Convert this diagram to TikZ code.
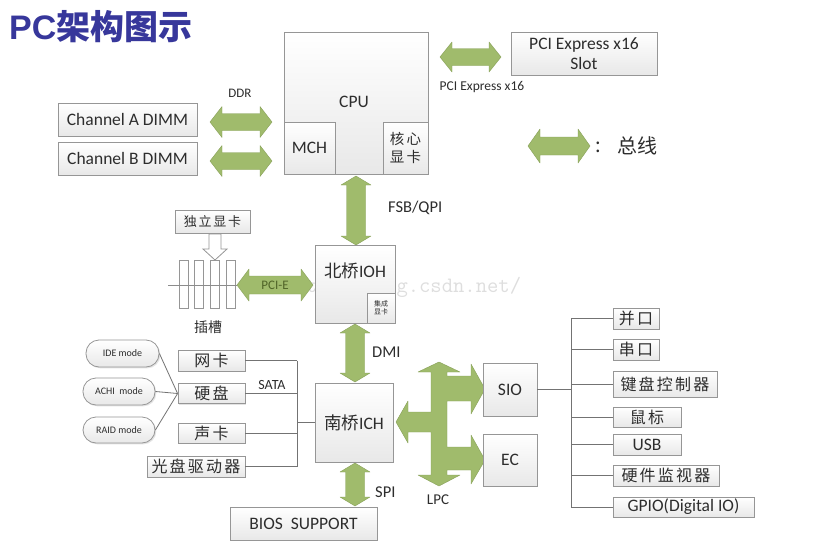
\documentclass[tikz,border=0pt]{standalone}
\usepackage{fontspec}
\setmainfont{Carlito}
\newfontfamily\cjk[LetterSpace=14]{Noto Sans CJK SC}
\newfontfamily\cjkt{Noto Sans CJK SC}
\newfontfamily\titlefont{Liberation Sans}
\usetikzlibrary{shadows}
\newcommand\fs[1]{\fontsize{#1}{\dimexpr #1pt*6/5\relax}\selectfont}
\definecolor{busg}{RGB}{160,187,108}
\definecolor{busgd}{RGB}{135,160,88}
\definecolor{bord}{RGB}{150,150,150}
\definecolor{txt}{RGB}{45,45,45}
\definecolor{titleblue}{RGB}{55,55,155}
\definecolor{pcietxt}{RGB}{80,100,40}
% horizontal double bus arrow: x1 x2 y headhalf shafthalf headlen
\newcommand\busH[6]{\filldraw[bus] (#1,#3) -- (#1+#6,#3-#4) -- (#1+#6,#3-#5) -- (#2-#6,#3-#5) -- (#2-#6,#3-#4) -- (#2,#3) -- (#2-#6,#3+#4) -- (#2-#6,#3+#5) -- (#1+#6,#3+#5) -- (#1+#6,#3+#4) -- cycle;}
% vertical double bus arrow: y1 y2 x headhalf shafthalf headlen
\newcommand\busV[6]{\filldraw[bus] (#3,#1) -- (#3-#4,#1+#6) -- (#3-#5,#1+#6) -- (#3-#5,#2-#6) -- (#3-#4,#2-#6) -- (#3,#2) -- (#3+#4,#2-#6) -- (#3+#5,#2-#6) -- (#3+#5,#1+#6) -- (#3+#4,#1+#6) -- cycle;}
\begin{document}
\begin{tikzpicture}[x=1pt,y=-1pt,
  box/.style={draw=bord, line width=0.8pt, top color=white, bottom color=black!9,
    drop shadow={opacity=0.22,shadow xshift=1.3pt,shadow yshift=-1.3pt},
    inner sep=0pt, text=txt, font=\fs{17.5}},
  subbox/.style={draw=bord, line width=0.8pt, top color=white, bottom color=black!9,
    inner sep=0pt, text=txt, font=\fs{17.5}},
  modebox/.style={box, rounded corners=13pt, font=\fs{10}},
  lbl/.style={inner sep=0pt, text=txt, font=\fs{16.5}},
  bus/.style={fill=busg, draw=busgd, line width=0.4pt, line join=round},
  conn/.style={draw=black!55, line width=0.8pt}]
\useasboundingbox[fill=white] (0,0) rectangle (823,544);

% watermark (behind the diagram)
\node[anchor=base west, inner sep=0pt, text=black, opacity=0.13, font=\ttfamily\fs{22}] (wm) at (283,292) {http://blog.csdn.net/};

% title
\node[anchor=west, inner sep=0pt, text=titleblue, font=\titlefont\bfseries\fs{34}] (title) at (9,27) {PC{\cjkt\bfseries 架构图示}};

% memory
\node[box, minimum width=139pt, minimum height=33pt] (chA) at (127.5,119.5) {Channel A DIMM};
\node[box, minimum width=139pt, minimum height=33pt] (chB) at (127.5,158.5) {Channel B DIMM};
\node[lbl, font=\fs{13}] (ddr) at (240,93) {DDR};
\busH{210}{272}{122}{15.5}{8.5}{12}
\busH{210}{272}{161}{15.5}{8.5}{12}

% CPU
\node[box, minimum width=144pt, minimum height=142pt] (cpu) at (356,103) {};
\node[lbl, font=\fs{17.5}] (cputxt) at (354,102) {CPU};
\node[subbox, minimum width=51pt, minimum height=52pt] (mch) at (309.5,148) {MCH};
\node[subbox, minimum width=45pt, minimum height=52pt, align=center, font=\cjk\fs{14.5}] (core) at (405.5,148) {核心\\[1pt]显卡};

% PCIe x16
\busH{440}{501}{57}{15}{8.5}{12}
\node[lbl, font=\fs{13.5}] (pcielbl) at (482,87) {PCI Express x16};
\node[box, minimum width=146pt, minimum height=43pt, align=center, font=\fs{17.5}] (slot) at (584,53.5) {PCI Express x16\\[-1pt]Slot};

% legend
\busH{528}{590}{146}{17}{9}{12}
\node[lbl, font=\cjkt\fs{20}] (colon) at (598,147) {:};
\node[lbl, font=\cjkt\fs{20}] (leg) at (637,146) {总线};

% FSB
\busV{176}{245}{356}{15}{9.5}{9}
\node[lbl, anchor=west] (fsb) at (388,208) {FSB/QPI};

% IOH
\node[box, minimum width=80pt, minimum height=78pt] (ioh) at (355,284) {};
\node[lbl, font=\fs{17.5}] (iohtxt) at (355,271) {{\cjkt 北桥}IOH};
\node[subbox, minimum width=28pt, minimum height=30pt, align=center, font=\cjkt\fs{7}] (igpu) at (381,308) {集成\\显卡};

% discrete graphics and slots
\node[box, minimum width=75pt, minimum height=23pt, font=\cjk\fs{13}] (dgpu) at (212.5,221.5) {独立显卡};
\filldraw[draw=bord, fill=white, line width=0.8pt] (209,234) -- (221,234) -- (221,249) -- (227,249) -- (215,260) -- (203,249) -- (209,249) -- cycle;
\foreach \sx in {179,194,210,226}{
  \filldraw[draw=bord, fill=white, line width=0.8pt] (\sx,260) rectangle (\sx+9,308);
}
\coordinate (slotL) at (168,285);
\draw[conn, draw=black!45] (slotL) -- (237,285);
\node[lbl, font=\cjkt\fs{14}] (slotlbl) at (208,327) {插槽};
\busH{237}{313}{285}{16}{9}{12}
\node[inner sep=0pt, text=pcietxt, font=\fs{13}] (pcie) at (275,285) {PCI-E};

% DMI
\busV{324}{382}{355}{15}{9.5}{9}
\node[lbl, anchor=west] (dmi) at (372,352) {DMI};

% ICH
\node[box, minimum width=78pt, minimum height=79pt] (ich) at (354,422.5) {{\cjkt 南桥}ICH};

% SPI + BIOS
\busV{463}{506}{355}{15}{9.5}{9}
\node[lbl, anchor=west] (spi) at (375,492) {SPI};
\node[box, minimum width=147pt, minimum height=33pt] (bios) at (303.5,523.5) {BIOS\ \ SUPPORT};

% left peripherals
\node[box, minimum width=67pt, minimum height=21pt, font=\cjk\fs{16}] (nic) at (211.5,360.5) {网卡};
\node[box, minimum width=67pt, minimum height=20pt, font=\cjk\fs{16}] (hdd) at (211.5,393.5) {硬盘};
\node[box, minimum width=67pt, minimum height=20pt, font=\cjk\fs{16}] (snd) at (211.5,433) {声卡};
\node[box, minimum width=98pt, minimum height=21pt, font=\cjk\fs{16}] (odd) at (196,466.5) {光盘驱动器};
\node[lbl, font=\fs{14}] (sata) at (272,385) {SATA};
\coordinate (lb) at (297,0);
\draw[conn] (nic.east -| lb) -- (odd.east -| lb);
\foreach \n in {nic,hdd,snd,odd}{\draw[conn] (\n.east) -- (\n.east -| lb);}
\draw[conn] (ich.west -| lb) -- (ich.west);

% modes
\node[modebox, minimum width=73pt, minimum height=27pt] (ide) at (122.5,353.5) {IDE mode};
\node[modebox, minimum width=72pt, minimum height=27pt] (achi) at (119,391.5) {ACHI\ \ mode};
\node[modebox, minimum width=72pt, minimum height=26pt] (raid) at (119,430) {RAID mode};
\draw[conn] (ide.east) -- (hdd.west);
\draw[conn] (achi.east) -- (hdd.west);
\draw[conn] (raid.east) -- (hdd.west);

% LPC
\filldraw[bus] (439,362) -- (460,372) -- (447,372) -- (447,376) -- (471,376) -- (471,364) -- (485,389) -- (471,414) -- (471,401) -- (447,401) -- (447,447) -- (471,447) -- (471,435) -- (485,460) -- (471,484) -- (471,470) -- (447,470) -- (447,475) -- (460,475) -- (439,486) -- (418,475) -- (431,475) -- (431,432) -- (408,432) -- (408,443) -- (396,422) -- (408,401) -- (408,412) -- (431,412) -- (431,372) -- (418,372) -- cycle;
\node[lbl, font=\fs{15}] (lpc) at (438,500) {LPC};

% SIO / EC
\node[box, minimum width=54pt, minimum height=53pt] (sio) at (510,389.5) {SIO};
\node[box, minimum width=54pt, minimum height=52pt] (ec) at (510,460) {EC};

% right peripherals
\node[box, minimum width=46pt, minimum height=21pt, font=\cjk\fs{16}] (r1) at (636,318.5) {并口};
\node[box, minimum width=46pt, minimum height=21pt, font=\cjk\fs{16}] (r2) at (636,349.5) {串口};
\node[box, minimum width=104pt, minimum height=26pt, font=\cjk\fs{16}] (r3) at (665,384) {键盘控制器};
\node[box, minimum width=68pt, minimum height=20pt, font=\cjk\fs{16}] (r4) at (647,417) {鼠标};
\node[box, minimum width=68pt, minimum height=21pt] (r5) at (647,444.5) {USB};
\node[box, minimum width=106pt, minimum height=21pt, font=\cjk\fs{16}] (r6) at (666,475.5) {硬件监视器};
\node[box, minimum width=141pt, minimum height=20pt] (r7) at (683.5,507) {GPIO(Digital IO)};
\coordinate (rb) at (571,0);
\draw[conn] (sio.east) -- (sio.east -| rb);
\draw[conn] (r1.west -| rb) -- (r7.west -| rb);
\foreach \n in {r1,r2,r3,r4,r5,r6,r7}{\draw[conn] (\n.west -| rb) -- (\n.west);}
\end{tikzpicture}
\end{document}
